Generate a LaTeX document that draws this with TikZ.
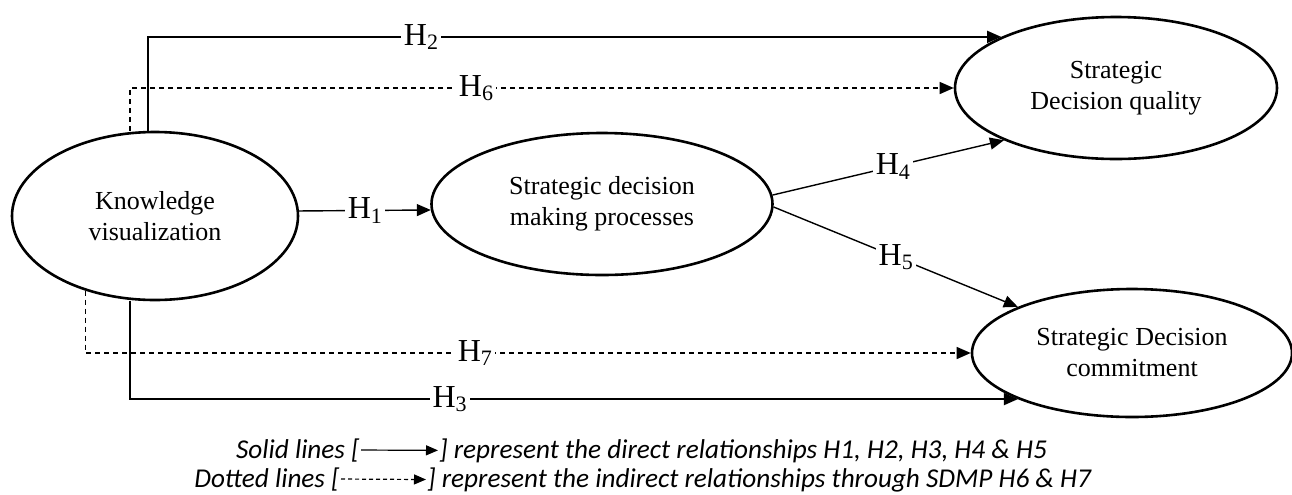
\documentclass[tikz,border=0pt]{standalone}
\usepackage{fontspec}
\setmainfont{Liberation Serif}
\newfontfamily\legendfont{Carlito}
\usetikzlibrary{arrows.meta,shapes.geometric}

\newcommand{\hyp}[1]{H\raisebox{-0.3ex}{\fontsize{11}{11}\selectfont #1}}

\tikzset{
  construct/.style={ellipse, draw, line width=1.3pt, inner sep=0pt, align=center,
    font=\fontsize{13}{15.5}\selectfont},
  direct/.style={-{Triangle[length=7pt,width=6pt]}, line width=0.7pt},
  indirect/.style={direct, dash pattern=on 2.5pt off 2pt},
  hlab/.style={fill=white, inner sep=1.5pt, font=\fontsize{16}{16}\selectfont},
  legend/.style={inner sep=0.5pt, font=\legendfont\itshape\fontsize{13.6}{15}\selectfont}
}

\begin{document}
\begin{tikzpicture}[x=0.5pt,y=-0.5pt]
\useasboundingbox (0,0) rectangle (1292,494);
\node[construct, minimum width=143pt, minimum height=84pt] (kv) at (155,216) {Knowledge\\visualization};
\node[construct, minimum width=170.5pt, minimum height=71pt] (sdmp) at (602,204) {Strategic decision\\making processes};
\node[construct, minimum width=161pt, minimum height=71pt] (sdq) at (1116,88) {Strategic\\Decision quality};
\node[construct, minimum width=160pt, minimum height=64pt] (sdc) at (1132,353) {Strategic Decision\\commitment};

\draw[direct] (kv.2) -- node[hlab] (h1) {\hyp{1}} (sdmp.182);
\draw[direct] ([xshift=-3.5pt]kv.north) |- node[hlab, pos=0.66] (h2) {\hyp{2}} (sdq.156);
\draw[direct] ([xshift=-12.5pt]kv.south) |- node[hlab, pos=0.68] (h3) {\hyp{3}} (sdc.202);
\draw[direct] (sdmp.3) -- node[hlab, pos=0.52] (h4) {\hyp{4}} (sdq.205);
\draw[direct] (sdmp.359) -- node[hlab, pos=0.5] (h5) {\hyp{5}} (sdc.158);
\draw[indirect] ([xshift=-12.5pt]kv.north) |- node[hlab, pos=0.71] (h6) {\hyp{6}} (sdq.west);
\draw[indirect] (kv.227) |- node[hlab, pos=0.72] (h7) {\hyp{7}} (sdc.west);

\node[legend, anchor=base east] (solid) at (361,458) {Solid lines [};
\node[legend, anchor=base west] (soliddesc) at (438,458) {] represent the direct relationships H1, H2, H3, H4 \& H5};
\draw[-{Triangle[length=6pt,width=5pt]}, line width=0.6pt] (solid.east) -- (soliddesc.west);
\node[legend, anchor=base east] (dotted) at (341,487) {Dotted lines [};
\node[legend, anchor=base west] (dotteddesc) at (426,487) {] represent the indirect relationships through SDMP H6 \& H7};
\draw[-{Triangle[length=6pt,width=5pt]}, line width=0.6pt, dash pattern=on 2pt off 1.5pt] (dotted.east) -- (dotteddesc.west);
\end{tikzpicture}
\end{document}
